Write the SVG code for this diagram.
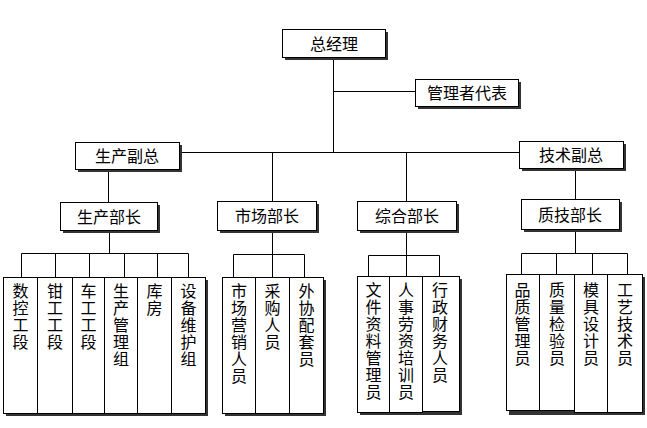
<svg xmlns="http://www.w3.org/2000/svg" width="647" height="428" viewBox="0 0 647 428">
<style>
.bx{fill:#fff;stroke:#000;stroke-width:1}
.sh{fill:#333}
.t{font-family:"Noto Sans CJK SC","Noto Sans",sans-serif;font-size:16px;fill:#000;text-anchor:middle}
.v{font-family:"Noto Sans CJK SC","Noto Sans",sans-serif;font-size:16px;fill:#000;writing-mode:vertical-rl;text-anchor:start;letter-spacing:1px}
.ln{stroke:#000;stroke-width:1;fill:none}
</style>
<rect width="647" height="428" fill="#fff"/>
<g id="connectors" class="ln">
<path d="M333.5 57V152.5M333.5 91.5H415M179 152.5H519"/>
<path d="M272.5 152.5V201M406.5 152.5V201M108.5 169V202M575.5 168V199"/>
<path d="M109.5 230V253.5M21.5 253.5H188.5M21.5 253.5V277M55.5 253.5V277M89.5 253.5V277M124.5 253.5V277M157.5 253.5V277M188.5 253.5V277"/>
<path d="M272.5 230V254.5M233.5 254.5H304.5M233.5 254.5V277M272.5 254.5V277M304.5 254.5V277"/>
<path d="M406.5 230V255.5M368.5 255.5H439.5M368.5 255.5V276M406.5 255.5V276M439.5 255.5V276"/>
<path d="M575.5 229V253.5M521.5 253.5H627.5M521.5 253.5V274M556.5 253.5V274M592.5 253.5V274M627.5 253.5V274"/>
</g>
<g id="n-ceo"><rect class="sh" x="285" y="32" width="103" height="28"/><rect class="bx" x="282.5" y="29.5" width="103" height="28"/><text class="t" x="334" y="50">总经理</text></g>
<g id="n-rep"><rect class="sh" x="418" y="82" width="103" height="27"/><rect class="bx" x="415.5" y="79.5" width="103" height="27"/><text class="t" x="467" y="99">管理者代表</text></g>
<g id="n-vp1"><rect class="sh" x="78" y="145" width="104" height="27"/><rect class="bx" x="75.5" y="142.5" width="104" height="27"/><text class="t" x="127" y="162">生产副总</text></g>
<g id="n-vp2"><rect class="sh" x="522" y="144" width="104" height="27"/><rect class="bx" x="519.5" y="141.5" width="104" height="27"/><text class="t" x="571" y="161">技术副总</text></g>
<g id="n-m1"><rect class="sh" x="63" y="205" width="97" height="28"/><rect class="bx" x="60.5" y="202.5" width="97" height="28"/><text class="t" x="109" y="223">生产部长</text></g>
<g id="n-m2"><rect class="sh" x="220" y="204" width="99" height="29"/><rect class="bx" x="217.5" y="201.5" width="99" height="29"/><text class="t" x="267" y="222">市场部长</text></g>
<g id="n-m3"><rect class="sh" x="360" y="204" width="99" height="29"/><rect class="bx" x="357.5" y="201.5" width="99" height="29"/><text class="t" x="407" y="222">综合部长</text></g>
<g id="n-m4"><rect class="sh" x="524" y="202" width="98" height="30"/><rect class="bx" x="521.5" y="199.5" width="98" height="30"/><text class="t" x="570" y="221">质技部长</text></g>

<g id="g1-shadow"><rect class="sh" x="6" y="280" width="202" height="136"/></g>
<g id="n-l1"><rect class="bx" x="3.5" y="277.5" width="34" height="136"/><text class="v" x="20.5" y="283">数控工段</text></g>
<g id="n-l2"><rect class="bx" x="37.5" y="277.5" width="35" height="136"/><text class="v" x="55" y="283">钳工工段</text></g>
<g id="n-l3"><rect class="bx" x="72.5" y="277.5" width="32" height="136"/><text class="v" x="88.5" y="283">车工工段</text></g>
<g id="n-l4"><rect class="bx" x="104.5" y="277.5" width="33" height="136"/><text class="v" x="121" y="283">生产管理组</text></g>
<g id="n-l5"><rect class="bx" x="137.5" y="277.5" width="34" height="136"/><text class="v" x="154.5" y="283">库房</text></g>
<g id="n-l6"><rect class="bx" x="171.5" y="277.5" width="34" height="136"/><text class="v" x="188.5" y="283">设备维护组</text></g>

<g id="g2-shadow"><rect class="sh" x="225" y="280" width="101" height="136"/></g>
<g id="n-l7"><rect class="bx" x="222.5" y="277.5" width="33" height="136"/><text class="v" x="239" y="283">市场营销人员</text></g>
<g id="n-l8"><rect class="bx" x="255.5" y="277.5" width="34" height="136"/><text class="v" x="272.5" y="283">采购人员</text></g>
<g id="n-l9"><rect class="bx" x="289.5" y="277.5" width="34" height="136"/><text class="v" x="306.5" y="283">外协配套员</text></g>

<g id="g3-shadow"><rect class="sh" x="360" y="279" width="102" height="136"/></g>
<g id="n-l10"><rect class="bx" x="357.5" y="276.5" width="32" height="136"/><text class="v" x="373.5" y="282">文件资料管理员</text></g>
<g id="n-l11"><rect class="bx" x="389.5" y="276.5" width="33" height="136"/><text class="v" x="406" y="282">人事劳资培训员</text></g>
<g id="n-l12"><rect class="bx" x="422.5" y="276.5" width="37" height="135"/><text class="v" x="440" y="282">行政财务人员</text></g>

<g id="g4-shadow"><rect class="sh" x="509" y="277" width="136" height="138"/></g>
<g id="n-l13"><rect class="bx" x="506.5" y="274.5" width="33" height="136"/><text class="v" x="522.5" y="282">品质管理员</text></g>
<g id="n-l14"><rect class="bx" x="539.5" y="274.5" width="35" height="136"/><text class="v" x="557" y="282">质量检验员</text></g>
<g id="n-l15"><rect class="bx" x="574.5" y="274.5" width="33" height="138"/><text class="v" x="591" y="282">模具设计员</text></g>
<g id="n-l16"><rect class="bx" x="607.5" y="274.5" width="35" height="138"/><text class="v" x="625" y="282">工艺技术员</text></g>
</svg>
